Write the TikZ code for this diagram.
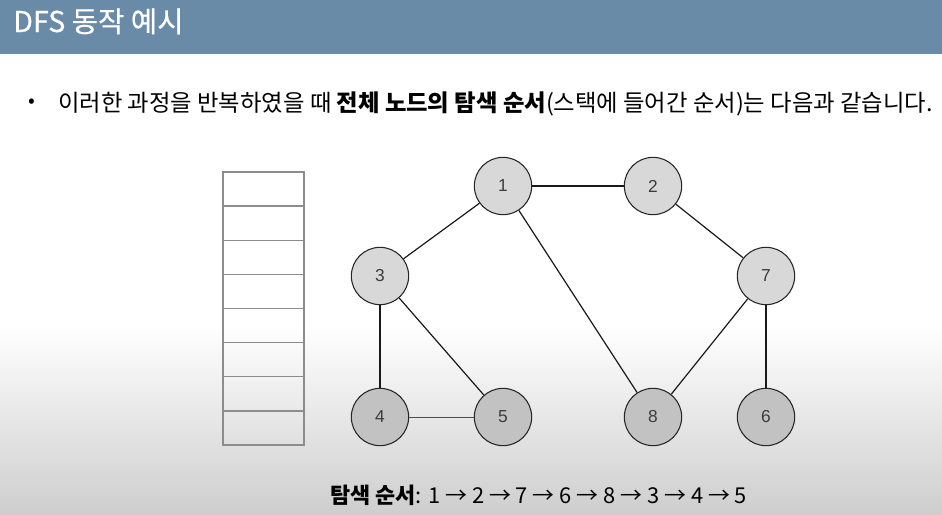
\documentclass[tikz,border=0pt]{standalone}
\usepackage{fontspec}
\setmainfont{Liberation Sans}
\newfontfamily\kr{Noto Sans CJK KR}
\newfontfamily\krm[FakeBold=0.5]{Noto Sans CJK KR}
\usetikzlibrary{positioning}
\definecolor{hdr}{RGB}{106,139,167}
\definecolor{bgbot}{RGB}{206,206,206}
\definecolor{ntop}{RGB}{216,216,216}
\definecolor{nbot}{RGB}{194,194,194}
\definecolor{stk}{RGB}{140,140,140}
\definecolor{numc}{RGB}{60,60,60}
\tikzset{
  gnode/.style={circle, draw=black!85, line width=0.8pt, minimum size=43pt, inner sep=0pt,
     font=\fontsize{13}{13}\selectfont, text=numc},
  edge/.style={draw=black!90, line width=0.9pt},
  cell/.style={draw=stk, line width=1pt, minimum width=60.75pt, minimum height=25.6pt, inner sep=0pt},
}
\begin{document}
\begin{tikzpicture}[x=0.75pt,y=-0.75pt]
\useasboundingbox (0,0) rectangle (942,514);
% background
\fill[white] (0,0) rectangle (942,514);
\shade[top color=white, bottom color=bgbot] (0,325) rectangle (942,514);
\fill[hdr] (0,0) rectangle (942,54);
% title
\node[anchor=base west, inner sep=0pt, text=white, font=\krm\fontsize{21.5}{21.5}\selectfont] (title) at (13,32) {DFS 동작 예시};
% bullet line
\node[anchor=center, inner sep=0pt, font=\kr\fontsize{15}{15}\selectfont] (bul) at (32,103) {•};
\node[anchor=base west, inner sep=0pt, font=\kr\fontsize{17.5}{17.5}\selectfont] (body) at (58,111)
  {이러한 과정을 반복하였을 때 \textbf{전체 노드의 탐색 순서}(스택에 들어간 순서)는 다음과 같습니다.};
% stack
\foreach \i in {0,...,7} {
  \node[cell] (s\i) at (263.5, {189.1+34.125*\i}) {};
}
% graph nodes
\node[gnode, fill=ntop] (n1) at (503,186) {1};
\node[gnode, fill=ntop] (n2) at (653,186) {2};
\node[gnode, fill=ntop] (n3) at (380,276) {3};
\node[gnode, fill=ntop] (n7) at (766,276) {7};
\node[gnode, fill=nbot] (n4) at (380,417) {4};
\node[gnode, fill=nbot] (n5) at (503,417) {5};
\node[gnode, fill=nbot] (n8) at (653,417) {8};
\node[gnode, fill=nbot] (n6) at (766,417) {6};
% edges
\draw[edge] (n1) -- (n2);
\draw[edge] (n1) -- (n3);
\draw[edge] (n1) -- (n8);
\draw[edge] (n2) -- (n7);
\draw[edge] (n3) -- (n4);
\draw[edge] (n3) -- (n5);
\draw[draw=black!70, line width=0.6pt] (n4) -- (n5);
\draw[edge] (n7) -- (n8);
\draw[edge] (n7) -- (n6);
% result
\node[anchor=base west, inner sep=0pt, font=\kr\fontsize{16.4}{16.4}\selectfont] (res) at (330,503)
  {\textbf{탐색 순서}: 1 → 2 → 7 → 6 → 8 → 3 → 4 → 5};
\end{tikzpicture}
\end{document}
